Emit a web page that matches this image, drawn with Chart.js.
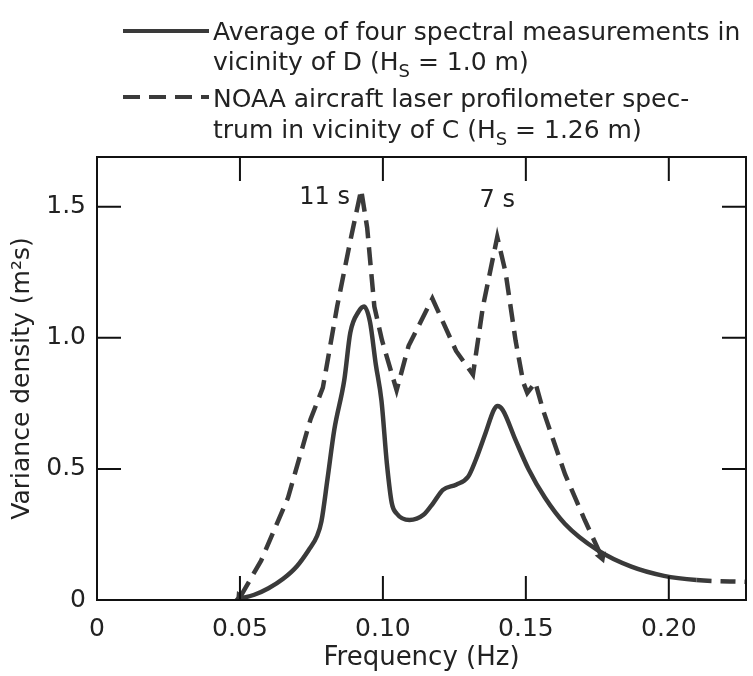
<!DOCTYPE html>
<html lang="en">
	<head>
		<meta charset="UTF-8" />
		<title>Variance density spectra</title>
		<script src="https://cdn.jsdelivr.net/npm/chart.js@4.4.1/dist/chart.umd.min.js"></script>
		<style>
			body { margin: 0; background: #fff; }
			canvas { display: block; }
		</style>
	</head>
	<body>
		<canvas id="spectrum" width="753" height="676"></canvas>

		<script>
			// solid: average of four spectral measurements near D
			const avgFreq = [0.05, 0.055, 0.06, 0.065, 0.07, 0.074, 0.077, 0.0785, 0.0806, 0.083, 0.0865, 0.0886, 0.0915, 0.0934, 0.0955, 0.0975, 0.0995, 0.1014, 0.1031, 0.1048, 0.1093, 0.1142, 0.1176, 0.121, 0.1256, 0.1298, 0.1325, 0.136, 0.1388, 0.1401, 0.1419, 0.1464, 0.1509, 0.1567, 0.1637, 0.1751, 0.1869, 0.1983, 0.2097, 0.227];
			const avgDensity = [0.005, 0.02, 0.045, 0.08, 0.13, 0.19, 0.245, 0.3, 0.46, 0.65, 0.84, 1.02, 1.1, 1.12, 1.06, 0.9, 0.76, 0.52, 0.37, 0.33, 0.305, 0.325, 0.37, 0.42, 0.44, 0.47, 0.535, 0.64, 0.725, 0.74, 0.725, 0.61, 0.5, 0.39, 0.29, 0.19, 0.127, 0.092, 0.076, 0.069];

			// dashed: NOAA aircraft laser profilometer spectrum near C
			const noaaFreq = [0.05, 0.0574, 0.0668, 0.0747, 0.079, 0.084, 0.0886, 0.0924, 0.0945, 0.097, 0.0997, 0.1048, 0.109, 0.1173, 0.1256, 0.1315, 0.135, 0.14, 0.1429, 0.1464, 0.1491, 0.1505, 0.1533, 0.156, 0.1637, 0.1706, 0.1765];
			const noaaDensity = [0.01, 0.15, 0.39, 0.69, 0.81, 1.12, 1.37, 1.565, 1.42, 1.12, 0.99, 0.8, 0.97, 1.15, 0.95, 0.86, 1.12, 1.385, 1.25, 0.99, 0.83, 0.79, 0.83, 0.725, 0.48, 0.305, 0.165];

			const xTicks = [0, 0.05, 0.1, 0.15, 0.2];
			const yTicks = [0, 0.5, 1.0, 1.5];

			const peakLabels = [
				{ text: "11 s", x: 0.0796, y: 1.51 },
				{ text: "7 s", x: 0.14, y: 1.5 },
			];

			const ink = "#3a3a3a";
			const textInk = "#222";
			const fontFamily = "'DejaVu Sans', 'Liberation Sans', sans-serif";

			const toPoints = (xs, ys) => xs.map((x, i) => ({ x, y: ys[i] }));

			// box, inward tick marks, peak labels and the legend block
			const framePlugin = {
				id: "frame",
				afterDraw(chart) {
					const { ctx, chartArea: a, scales } = chart;
					const tl = 24;
					ctx.save();
					ctx.strokeStyle = "#111";
					ctx.lineWidth = 2;
					ctx.strokeRect(a.left, a.top, a.right - a.left, a.bottom - a.top);
					ctx.beginPath();
					xTicks.filter((v) => v > 0).forEach((v) => {
						const px = scales.x.getPixelForValue(v);
						ctx.moveTo(px, a.bottom);
						ctx.lineTo(px, a.bottom - tl);
						ctx.moveTo(px, a.top);
						ctx.lineTo(px, a.top + tl);
					});
					yTicks.filter((v) => v > 0).forEach((v) => {
						const py = scales.y.getPixelForValue(v);
						ctx.moveTo(a.left, py);
						ctx.lineTo(a.left + tl, py);
						ctx.moveTo(a.right, py);
						ctx.lineTo(a.right - tl, py);
					});
					ctx.stroke();

					ctx.fillStyle = textInk;
					ctx.font = "24px " + fontFamily;
					ctx.textAlign = "center";
					ctx.textBaseline = "alphabetic";
					peakLabels.forEach((p) => {
						ctx.fillText(p.text, scales.x.getPixelForValue(p.x), scales.y.getPixelForValue(p.y));
					});

					// legend
					const tx = 213;
					ctx.textAlign = "left";
					const size = 25;
					const font = size + "px " + fontFamily;
					const subFont = Math.round(size * 0.72) + "px " + fontFamily;
					const drawRich = (parts, x, y) => {
						parts.forEach((p) => {
							ctx.font = p.sub ? subFont : font;
							ctx.fillText(p.t, x, y + (p.sub ? 7 : 0));
							x += ctx.measureText(p.t).width;
						});
					};
					drawRich([{ t: "Average of four spectral measurements in" }], tx, 40);
					drawRich([{ t: "vicinity of D (H" }, { t: "S", sub: true }, { t: " = 1.0 m)" }], tx, 70);
					drawRich([{ t: "NOAA aircraft laser profilometer spec-" }], tx, 107);
					drawRich([{ t: "trum in vicinity of C (H" }, { t: "S", sub: true }, { t: " = 1.26 m)" }], tx, 138);

					ctx.strokeStyle = ink;
					ctx.lineWidth = 4;
					ctx.beginPath();
					ctx.moveTo(123, 31);
					ctx.lineTo(209, 31);
					ctx.stroke();
					ctx.setLineDash([17, 9]);
					ctx.beginPath();
					ctx.moveTo(123, 97);
					ctx.lineTo(209, 97);
					ctx.stroke();
					ctx.restore();
				},
			};

			const ctx = document.getElementById("spectrum").getContext("2d");

			new Chart(ctx, {
				type: "line",
				data: {
					datasets: [
						{
							label: "Average of four spectral measurements in vicinity of D",
							data: toPoints(avgFreq, avgDensity),
							borderColor: ink,
							borderWidth: 4.5,
							cubicInterpolationMode: "monotone",
							segment: {
								borderDash: (c) => (c.p0.parsed.x >= 0.209 ? [15, 9] : undefined),
							},
							pointRadius: (c) => (c.dataIndex === 0 ? 7 : 0),
							pointStyle: "triangle",
							pointRotation: 255,
							pointBackgroundColor: ink,
							pointBorderWidth: 0,
						},
						{
							label: "NOAA aircraft laser profilometer spectrum in vicinity of C",
							data: toPoints(noaaFreq, noaaDensity),
							borderColor: ink,
							borderWidth: 4.5,
							borderDash: [18, 9],
							tension: 0,
							pointRadius: (c) => (c.dataIndex === 0 || c.dataIndex === noaaFreq.length - 1 ? 7 : 0),
							pointStyle: "triangle",
							pointRotation: (c) => (c.dataIndex === 0 ? 215 : 160),
							pointBackgroundColor: ink,
							pointBorderWidth: 0,
						},
					],
				},
				options: {
					responsive: false,
					animation: false,
					layout: { padding: { top: 157, right: 2, left: 0, bottom: 0 } },
					plugins: {
						legend: { display: false },
						tooltip: { enabled: false },
					},
					scales: {
						x: {
							type: "linear",
							min: 0,
							max: 0.227,
							afterBuildTicks: (s) => {
								s.ticks = xTicks.map((v) => ({ value: v }));
							},
							afterFit: (s) => {
								s.height = 76;
							},
							grid: { display: false, drawTicks: false },
							border: { display: false },
							ticks: {
								padding: 14,
								color: textInk,
								font: { family: fontFamily, size: 25 },
								maxRotation: 0,
								callback: (v) => (v === 0 ? "0" : v.toFixed(2)),
							},
							title: {
								display: true,
								text: "Frequency (Hz)",
								color: textInk,
								font: { family: fontFamily, size: 26 },
								padding: { top: 0, bottom: 2 },
							},
						},
						y: {
							min: 0,
							max: 1.69,
							afterBuildTicks: (s) => {
								s.ticks = yTicks.map((v) => ({ value: v }));
							},
							afterFit: (s) => {
								s.width = 97;
							},
							grid: { display: false, drawTicks: false },
							border: { display: false },
							ticks: {
								padding: 11,
								color: textInk,
								font: { family: fontFamily, size: 25 },
								callback: (v) => (v === 0 ? "0" : v.toFixed(1)),
							},
							title: {
								display: true,
								text: "Variance density (m²s)",
								color: textInk,
								font: { family: fontFamily, size: 25 },
								padding: { top: 7, bottom: 0 },
							},
						},
					},
				},
				plugins: [framePlugin],
			});
		</script>
	</body>
</html>
